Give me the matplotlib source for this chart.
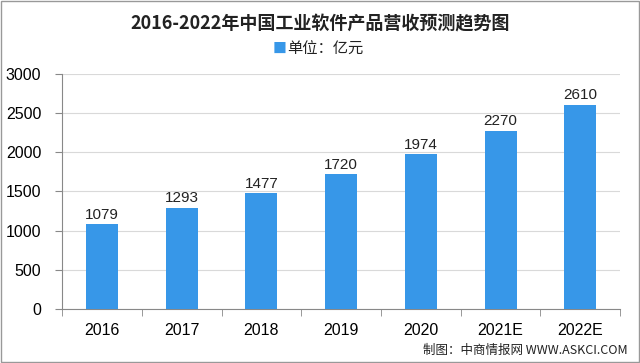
import matplotlib
matplotlib.use("Agg")
import matplotlib.pyplot as plt
import numpy as np

plt.rcParams['font.family'] = ['Noto Sans CJK SC', 'DejaVu Sans']

years = ["2016", "2017", "2018", "2019", "2020", "2021E", "2022E"]
revenue = [1079, 1293, 1477, 1720, 1974, 2270, 2610]

bar_color = "#3797e8"

fig = plt.figure(figsize=(6.4, 3.63), dpi=100)
ax = fig.add_axes([0.097, 0.149, 0.872, 0.647])

x = np.arange(len(years))
ax.bar(x, revenue, width=0.4, color=bar_color, zorder=3)
for xi, v in zip(x, revenue):
    ax.text(xi, v + 35, str(v), ha="center", va="bottom", fontsize=11,
            family="Liberation Sans", color="#222222")

ax.set_ylim(0, 3000)
ax.set_xlim(-0.5, len(years) - 0.5)
ax.set_yticks(range(0, 3001, 500))
ax.yaxis.grid(True, color="#d9d9d9", linewidth=0.8, zorder=0)
ax.set_xticks(x)
ax.set_xticklabels(years)
ax.set_xticks(np.arange(-0.5, len(years), 1), minor=True)
ax.tick_params(axis="x", which="major", length=0, pad=10, labelsize=11.5)
ax.tick_params(axis="x", which="minor", length=5, color="#888888")
ax.tick_params(axis="y", length=5, color="#888888", labelsize=11.5, pad=10)
for lab in ax.get_xticklabels() + ax.get_yticklabels():
    lab.set_family("Liberation Sans")
for s in ["top", "right"]:
    ax.spines[s].set_visible(False)
for s in ["left", "bottom"]:
    ax.spines[s].set_color("#888888")

fig.text(0.5, 0.935, "2016-2022年中国工业软件产品营收预测趋势图", ha="center", va="center",
         fontsize=13, fontweight="bold", color="#222222")
fig.text(0.447, 0.865, "■", ha="right", va="center", fontsize=10, color=bar_color)
fig.text(0.448, 0.865, "单位：亿元", ha="left", va="center", fontsize=11, color="#222222")

fig.text(0.98, 0.035, "制图：中商情报网 WWW.ASKCI.COM", ha="right", va="center",
         fontsize=9, color="#222222")

fig.patches.append(plt.Rectangle((0.002, 0.003), 0.996, 0.994, transform=fig.transFigure,
                                 fill=False, edgecolor="#999999", linewidth=1))

fig.savefig("out.png", dpi=100)
